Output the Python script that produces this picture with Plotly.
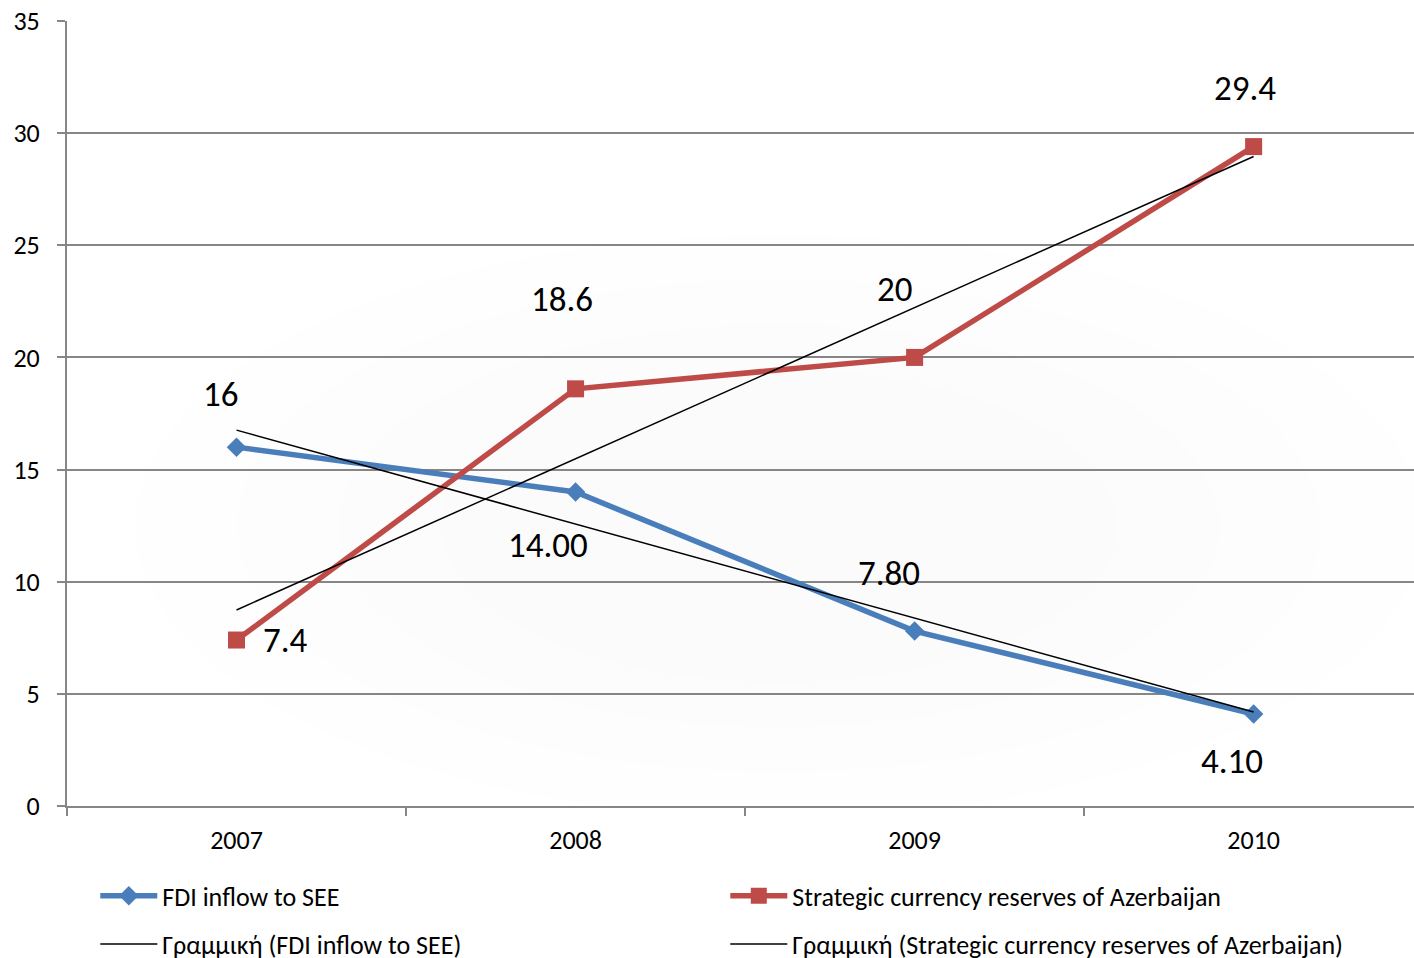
import numpy as np
import plotly.graph_objects as go

years = ["2007", "2008", "2009", "2010"]
fdi = [16, 14, 7.8, 4.1]
reserves = [7.4, 18.6, 20, 29.4]
fdi_labels = ["16", "14.00", "7.80", "4.10"]
res_labels = ["7.4", "18.6", "20", "29.4"]

xs = np.arange(len(years))
FONT = "Carlito, Lato, sans-serif"
BLUE = "#4A7EBB"
RED = "#BE4B48"

fig = go.Figure()

# subtle radial background shading
for i, (rx, ry) in enumerate([(1.9, 13), (1.6, 11), (1.3, 9), (1.0, 7)]):
    fig.add_shape(type="circle", xref="x", yref="y", layer="below",
                  x0=1.6 - rx, x1=1.6 + rx, y0=12.5 - ry, y1=12.5 + ry,
                  fillcolor="rgba(0,0,0,0.004)", line=dict(width=0))

fig.add_trace(go.Scatter(x=xs, y=fdi, mode="lines+markers", name="FDI inflow to SEE",
                         line=dict(color=BLUE, width=5.5),
                         marker=dict(symbol="diamond", size=15, color=BLUE),
                         legend="legend"))
fig.add_trace(go.Scatter(x=xs, y=reserves, mode="lines+markers",
                         name="Strategic currency reserves of Azerbaijan",
                         line=dict(color=RED, width=5.5),
                         marker=dict(symbol="square", size=17, color=RED),
                         legend="legend"))

p1 = np.polyfit(xs, fdi, 1)
p2 = np.polyfit(xs, reserves, 1)
fig.add_trace(go.Scatter(x=xs, y=np.polyval(p1, xs), mode="lines",
                         name="Γραμμική (FDI inflow to SEE)",
                         line=dict(color="black", width=1.5), legend="legend2"))
fig.add_trace(go.Scatter(x=xs, y=np.polyval(p2, xs), mode="lines",
                         name="Γραμμική (Strategic currency reserves of Azerbaijan)",
                         line=dict(color="black", width=1.5), legend="legend2"))

fdi_shift = [(-16, 53), (-28, -53), (-26, 58), (-22, -47)]
res_shift = [(49, 0), (-14, 90), (-20, 68), (-9, 59)]
for i in range(len(years)):
    fig.add_annotation(x=xs[i], y=fdi[i], text=fdi_labels[i], showarrow=False,
                       xshift=fdi_shift[i][0], yshift=fdi_shift[i][1],
                       font=dict(size=35, color="black", family=FONT))
    fig.add_annotation(x=xs[i], y=reserves[i], text=res_labels[i], showarrow=False,
                       xshift=res_shift[i][0], yshift=res_shift[i][1],
                       font=dict(size=35, color="black", family=FONT))

leg_common = dict(orientation="h", x=0.021, xanchor="left", yanchor="middle",
                  entrywidth=558, itemwidth=57, bgcolor="rgba(0,0,0,0)",
                  font=dict(size=26, color="black", family=FONT))

fig.update_layout(
    width=1414, height=958,
    margin=dict(l=67, r=0, t=21, b=152, autoexpand=False),
    paper_bgcolor="white", plot_bgcolor="white",
    font=dict(family=FONT, color="black"),
    legend=dict(y=-0.1146, **leg_common),
    legend2=dict(y=-0.1758, **leg_common),
    xaxis=dict(range=[-0.5, 3.473], tickvals=list(xs), ticktext=years,
               ticks="", showgrid=False, zeroline=False,
               showline=True, linecolor="#868686", linewidth=2,
               tickfont=dict(size=26, family=FONT, color="black"),
               ticklabelstandoff=10,
               minor=dict(tick0=-0.5, dtick=1, ticks="outside", ticklen=8,
                          tickcolor="#868686", tickwidth=2, showgrid=False)),
    yaxis=dict(range=[0, 35], dtick=5, showgrid=True, gridcolor="#868686",
               gridwidth=2, zeroline=False, showline=True, linecolor="#868686",
               linewidth=2, ticks="outside", ticklen=8, tickcolor="#868686",
               tickwidth=2, tickfont=dict(size=26, family=FONT, color="black"),
               ticklabelstandoff=12),
)

fig.write_html("out.html")
